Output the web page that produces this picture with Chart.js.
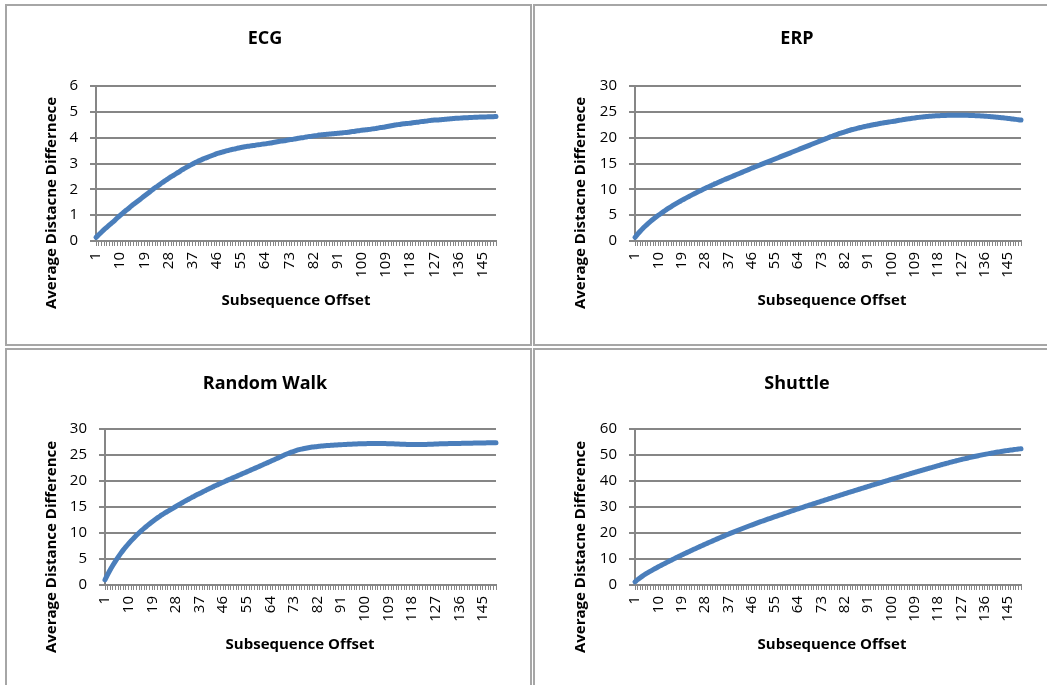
<!DOCTYPE html>
<html>
<head>
<meta charset="utf-8">
<script src="https://cdn.jsdelivr.net/npm/chart.js@4.4.0/dist/chart.umd.min.js"></script>
<style>
  html, body { margin: 0; padding: 0; background: #fff; width: 1047px; height: 685px; overflow: hidden; position: relative; }
  .panel { position: absolute; box-sizing: border-box; border: 2px solid #a6a6a6; background: #fff; }
  canvas { position: absolute; }
</style>
</head>
<body>
<div class="panel" style="left:5px;top:4px;width:527px;height:342px"></div>
<div class="panel" style="left:533px;top:4px;width:520px;height:342px"></div>
<div class="panel" style="left:5px;top:348px;width:527px;height:345px"></div>
<div class="panel" style="left:533px;top:348px;width:520px;height:345px"></div>

<canvas id="ecg"></canvas>
<canvas id="erp"></canvas>
<canvas id="rw"></canvas>
<canvas id="shuttle"></canvas>

<script>
// Subsequence offsets 1..150 (category axis)
const offsets = Array.from({ length: 150 }, (_, i) => String(i + 1));

const ecgValues = [
  0.14, 0.24, 0.34, 0.44, 0.53, 0.62, 0.71, 0.80, 0.90, 0.99,
  1.08, 1.17, 1.25, 1.34, 1.42, 1.50, 1.58, 1.66, 1.74, 1.82,
  1.90, 1.98, 2.06, 2.13, 2.21, 2.28, 2.35, 2.42, 2.49, 2.55,
  2.62, 2.68, 2.75, 2.81, 2.87, 2.93, 2.98, 3.04, 3.09, 3.13,
  3.18, 3.22, 3.26, 3.30, 3.34, 3.38, 3.41, 3.44, 3.47, 3.50,
  3.53, 3.55, 3.57, 3.60, 3.62, 3.64, 3.66, 3.67, 3.69, 3.70,
  3.72, 3.73, 3.75, 3.76, 3.78, 3.79, 3.81, 3.83, 3.85, 3.87,
  3.88, 3.90, 3.92, 3.93, 3.95, 3.97, 3.99, 4.00, 4.02, 4.04,
  4.05, 4.07, 4.08, 4.10, 4.11, 4.12, 4.13, 4.14, 4.15, 4.16,
  4.17, 4.18, 4.19, 4.20, 4.21, 4.23, 4.24, 4.26, 4.27, 4.29,
  4.30, 4.31, 4.32, 4.34, 4.35, 4.37, 4.39, 4.40, 4.42, 4.44,
  4.46, 4.48, 4.50, 4.51, 4.53, 4.54, 4.55, 4.56, 4.58, 4.59,
  4.60, 4.62, 4.63, 4.64, 4.66, 4.67, 4.68, 4.68, 4.69, 4.70,
  4.71, 4.72, 4.73, 4.74, 4.75, 4.75, 4.76, 4.77, 4.77, 4.78,
  4.78, 4.79, 4.79, 4.80, 4.80, 4.80, 4.81, 4.81, 4.81, 4.82
];

const erpValues = [
  0.70, 1.32, 1.89, 2.42, 2.91, 3.37, 3.80, 4.21, 4.60, 4.97,
  5.33, 5.68, 6.02, 6.35, 6.67, 6.98, 7.28, 7.57, 7.85, 8.13,
  8.40, 8.67, 8.93, 9.19, 9.44, 9.69, 9.93, 10.17, 10.41, 10.64,
  10.87, 11.10, 11.32, 11.54, 11.76, 11.97, 12.18, 12.39, 12.60, 12.81,
  13.02, 13.23, 13.44, 13.65, 13.86, 14.07, 14.27, 14.47, 14.67, 14.87,
  15.07, 15.27, 15.47, 15.67, 15.87, 16.07, 16.27, 16.47, 16.67, 16.87,
  17.07, 17.27, 17.47, 17.67, 17.87, 18.07, 18.27, 18.47, 18.67, 18.87,
  19.07, 19.27, 19.47, 19.67, 19.87, 20.07, 20.26, 20.45, 20.63, 20.81,
  20.98, 21.14, 21.29, 21.44, 21.58, 21.71, 21.84, 21.96, 22.08, 22.19,
  22.30, 22.40, 22.50, 22.60, 22.69, 22.78, 22.87, 22.95, 23.03, 23.11,
  23.18, 23.27, 23.36, 23.45, 23.53, 23.61, 23.68, 23.75, 23.82, 23.89,
  23.95, 24.01, 24.06, 24.11, 24.15, 24.19, 24.22, 24.25, 24.27, 24.29,
  24.31, 24.32, 24.33, 24.34, 24.34, 24.34, 24.34, 24.33, 24.32, 24.31,
  24.29, 24.27, 24.25, 24.22, 24.19, 24.16, 24.12, 24.08, 24.04, 23.99,
  23.94, 23.89, 23.84, 23.78, 23.72, 23.66, 23.60, 23.54, 23.47, 23.40
];

const randomWalkValues = [
  1.00, 2.00, 2.93, 3.80, 4.61, 5.37, 6.08, 6.75, 7.38, 7.97,
  8.53, 9.06, 9.56, 10.04, 10.50, 10.94, 11.36, 11.77, 12.17, 12.55,
  12.91, 13.26, 13.58, 13.90, 14.20, 14.50, 14.80, 15.10, 15.40, 15.70,
  15.98, 16.26, 16.54, 16.81, 17.08, 17.34, 17.60, 17.85, 18.10, 18.35,
  18.59, 18.83, 19.07, 19.30, 19.53, 19.76, 19.99, 20.22, 20.44, 20.66,
  20.88, 21.10, 21.32, 21.54, 21.76, 21.98, 22.20, 22.42, 22.64, 22.86,
  23.08, 23.30, 23.53, 23.76, 23.99, 24.22, 24.45, 24.68, 24.91, 25.13,
  25.34, 25.54, 25.72, 25.88, 26.02, 26.14, 26.25, 26.35, 26.44, 26.52,
  26.59, 26.65, 26.70, 26.75, 26.79, 26.83, 26.86, 26.89, 26.92, 26.95,
  26.98, 27.01, 27.04, 27.07, 27.09, 27.11, 27.13, 27.15, 27.17, 27.18,
  27.19, 27.20, 27.21, 27.21, 27.21, 27.21, 27.20, 27.19, 27.18, 27.16,
  27.14, 27.12, 27.10, 27.08, 27.06, 27.04, 27.03, 27.02, 27.01, 27.01,
  27.01, 27.02, 27.03, 27.05, 27.07, 27.09, 27.11, 27.13, 27.15, 27.17,
  27.18, 27.19, 27.20, 27.21, 27.22, 27.23, 27.24, 27.25, 27.26, 27.27,
  27.28, 27.29, 27.30, 27.31, 27.32, 27.33, 27.34, 27.35, 27.36, 27.37
];

const shuttleValues = [
  1.20, 2.05, 2.82, 3.52, 4.17, 4.78, 5.36, 5.92, 6.47, 7.00,
  7.52, 8.03, 8.54, 9.05, 9.55, 10.05, 10.54, 11.02, 11.50, 11.98,
  12.45, 12.92, 13.39, 13.85, 14.30, 14.75, 15.20, 15.65, 16.10, 16.54,
  16.98, 17.42, 17.85, 18.28, 18.70, 19.12, 19.54, 19.95, 20.35, 20.75,
  21.15, 21.54, 21.93, 22.31, 22.69, 23.06, 23.43, 23.80, 24.16, 24.52,
  24.87, 25.22, 25.57, 25.92, 26.26, 26.60, 26.94, 27.28, 27.62, 27.96,
  28.30, 28.64, 28.97, 29.30, 29.63, 29.96, 30.29, 30.62, 30.95, 31.28,
  31.60, 31.92, 32.24, 32.56, 32.88, 33.20, 33.52, 33.84, 34.16, 34.48,
  34.80, 35.12, 35.43, 35.74, 36.05, 36.36, 36.67, 36.98, 37.29, 37.60,
  37.91, 38.22, 38.53, 38.83, 39.13, 39.43, 39.73, 40.03, 40.33, 40.63,
  40.93, 41.23, 41.53, 41.83, 42.13, 42.43, 42.73, 43.02, 43.31, 43.60,
  43.89, 44.18, 44.47, 44.76, 45.04, 45.32, 45.60, 45.88, 46.19, 46.46,
  46.74, 47.00, 47.27, 47.54, 47.78, 48.04, 48.28, 48.51, 48.75, 48.97,
  49.20, 49.42, 49.63, 49.84, 50.04, 50.23, 50.43, 50.60, 50.79, 50.96,
  51.13, 51.29, 51.46, 51.60, 51.76, 51.89, 52.03, 52.17, 52.29, 52.42
];

const GRID = '#868686';
const LINE = '#4a7ebb';
const FONT = '"Open Sans", Lato, sans-serif';
const Y_AXIS_W = 40;   // fixed width of the value-axis band
const X_AXIS_H = 50;   // fixed height of the category-axis band

// Draws the chart title and both axis titles
const panelText = {
  id: 'panelText',
  afterDraw(chart, args, o) {
    const ctx = chart.ctx;
    ctx.save();
    ctx.fillStyle = '#000';
    ctx.textAlign = 'center';
    ctx.textBaseline = 'middle';
    ctx.font = 'bold 18px ' + FONT;
    ctx.fillText(o.title, o.titlePos[0], o.titlePos[1]);
    ctx.font = 'bold 15px ' + FONT;
    ctx.fillText(o.xTitle, o.xTitlePos[0], o.xTitlePos[1]);
    ctx.translate(o.yTitlePos[0], o.yTitlePos[1]);
    ctx.rotate(-Math.PI / 2);
    ctx.fillText(o.yTitle, 0, 0);
    ctx.restore();
  }
};

function makePanel(spec) {
  const cv = document.getElementById(spec.id);
  const box = spec.canvas;
  cv.style.left = box.x + 'px';
  cv.style.top = box.y + 'px';
  cv.style.width = box.w + 'px';
  cv.style.height = box.h + 'px';
  cv.width = box.w;
  cv.height = box.h;
  const p = spec.plot;
  const rel = (pt) => [pt[0] - box.x, pt[1] - box.y];

  new Chart(cv, {
    type: 'line',
    data: {
      labels: offsets,
      datasets: [{
        data: spec.values,
        borderColor: LINE,
        borderWidth: 5,
        pointRadius: 0,
        tension: 0.4,
        borderCapStyle: 'round',
        borderJoinStyle: 'round',
        fill: false,
        clip: 8
      }]
    },
    options: {
      responsive: false,
      animation: false,
      events: [],
      layout: {
        padding: {
          left: p.l - box.x - Y_AXIS_W,
          top: p.t - box.y,
          right: box.x + box.w - p.r,
          bottom: box.y + box.h - p.b - X_AXIS_H
        }
      },
      plugins: {
        legend: { display: false },
        tooltip: { enabled: false },
        title: { display: false },
        panelText: {
          title: spec.title, titlePos: rel(spec.titlePos),
          xTitle: 'Subsequence Offset', xTitlePos: rel(spec.xTitlePos),
          yTitle: spec.yTitle, yTitlePos: rel(spec.yTitlePos)
        }
      },
      scales: {
        x: {
          type: 'category',
          offset: false,
          afterFit: (s) => { s.height = X_AXIS_H; },
          border: { display: true, color: GRID, width: 2 },
          grid: {
            display: true,
            drawOnChartArea: false,
            drawTicks: true,
            tickLength: 5,
            color: GRID,
            lineWidth: 1
          },
          ticks: {
            autoSkip: false,
            minRotation: 90,
            maxRotation: 90,
            padding: 6,
            color: '#000',
            font: { family: FONT, size: 15 },
            callback: function (value, index) {
              return index % 9 === 0 ? this.getLabelForValue(value) : '';
            }
          }
        },
        y: {
          min: 0,
          max: spec.max,
          afterFit: (s) => { s.width = Y_AXIS_W; },
          border: { display: true, color: GRID, width: 2 },
          grid: {
            color: GRID,
            lineWidth: 2,
            drawTicks: true,
            tickLength: 6
          },
          ticks: {
            stepSize: spec.step,
            padding: 12,
            color: '#000',
            font: { family: FONT, size: 15 }
          }
        }
      }
    },
    plugins: [panelText]
  });
}

makePanel({
  id: 'ecg', title: 'ECG', values: ecgValues, max: 6, step: 1,
  yTitle: 'Average Distacne Differnece',
  canvas: { x: 8, y: 7, w: 520, h: 336 },
  plot: { l: 96, t: 86, r: 496, b: 241 },
  titlePos: [265, 39], xTitlePos: [296, 301], yTitlePos: [52, 203]
});

makePanel({
  id: 'erp', title: 'ERP', values: erpValues, max: 30, step: 5,
  yTitle: 'Average Distacne Differnece',
  canvas: { x: 536, y: 7, w: 509, h: 336 },
  plot: { l: 635, t: 86, r: 1030, b: 241 },
  titlePos: [797, 39], xTitlePos: [832, 301], yTitlePos: [581, 203]
});

makePanel({
  id: 'rw', title: 'Random Walk', values: randomWalkValues, max: 30, step: 5,
  yTitle: 'Average Distance Difference',
  canvas: { x: 8, y: 351, w: 520, h: 332 },
  plot: { l: 105, t: 429, r: 496, b: 585 },
  titlePos: [265, 384], xTitlePos: [300, 645], yTitlePos: [52, 547]
});

makePanel({
  id: 'shuttle', title: 'Shuttle', values: shuttleValues, max: 60, step: 10,
  yTitle: 'Average Distacne Difference',
  canvas: { x: 536, y: 351, w: 509, h: 332 },
  plot: { l: 635, t: 429, r: 1030, b: 585 },
  titlePos: [797, 384], xTitlePos: [832, 645], yTitlePos: [581, 547]
});
</script>
</body>
</html>
